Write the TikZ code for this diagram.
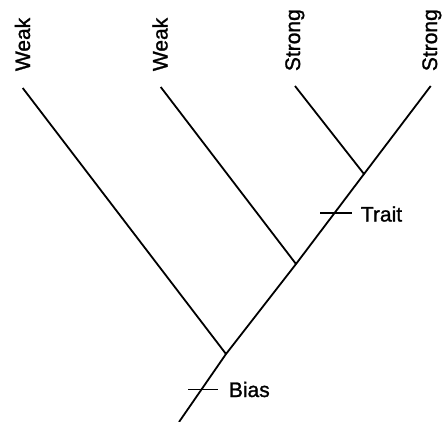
\documentclass[tikz,border=0pt]{standalone}
\usepackage{fontspec}
\setmainfont[FakeBold=1.2]{Liberation Sans}
\begin{document}
\begin{tikzpicture}[x=1pt,y=-1pt,line width=1.8pt,
  lbl/.style={font=\fontsize{21}{24}\selectfont,inner sep=0pt},
  leaflbl/.style={lbl,rotate=90,anchor=base west}]
\useasboundingbox (0,0) rectangle (444,422);
% tree points
\coordinate (root) at (179,422);
\coordinate (A) at (226,354);
\coordinate (B) at (296,264);
\coordinate (C) at (364,174);
\coordinate (w1) at (22.7,88);
\coordinate (w2) at (160.7,87);
\coordinate (s1) at (295,86);
\coordinate (s2) at (430.7,86);
% branches
\draw (root) -- (A) -- (B) -- (C) -- (s2);
\draw (w1) -- (A);
\draw (w2) -- (B);
\draw (s1) -- (C);
% ticks
\coordinate (bl) at (188,389.5);
\coordinate (br) at (218,389.5);
\coordinate (tl) at (320,213);
\coordinate (tr) at (352,213);
\draw (bl) -- (br);
\draw (tl) -- (tr);
% labels
\node[lbl,anchor=base west] (bias) at (228,397) {Bias};
\node[lbl,anchor=base west] (trait) at (360,221.5) {Trait};
\node[leaflbl] (lw1) at (30,72) {Weak};
\node[leaflbl] (lw2) at (167.5,72) {Weak};
\node[leaflbl] (ls1) at (300,72) {Strong};
\node[leaflbl] (ls2) at (437,72) {Strong};
\end{tikzpicture}
\end{document}
